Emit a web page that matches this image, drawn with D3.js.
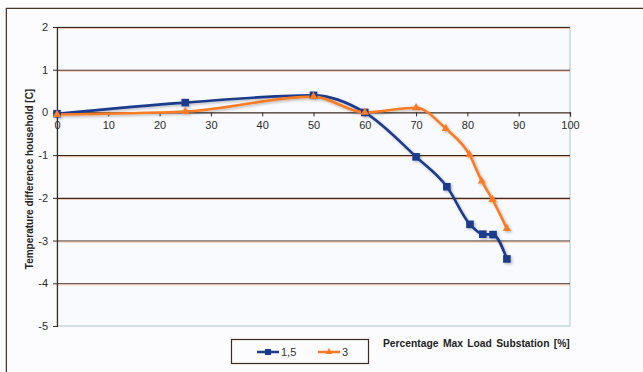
<!DOCTYPE html>
<html><head><meta charset="utf-8">
<script src="https://cdn.jsdelivr.net/npm/d3@7/dist/d3.min.js"></script>
<style>
html,body{margin:0;padding:0;background:#fdfdfe;}
svg{display:block;font-family:"Liberation Sans",Arial,sans-serif;}
</style></head><body>
<svg id="c" width="643" height="372"></svg>
<script>
const xTicks = [0,10,20,30,40,50,60,70,80,90,100];
const yTicks = [2,1,0,-1,-2,-3,-4,-5];
const seriesNames = ["1,5","3"];
const xBlue = [0,25,50,60,70,76,80.5,83,85,87.7];
const yBlue = [-0.03,0.23,0.4,0,-1.04,-1.74,-2.62,-2.85,-2.86,-3.43];
const xOrange = [0,25,50,60,70,75.8,80.4,82.8,84.9,87.7];
const yOrange = [-0.05,0.02,0.37,0,0.11,-0.38,-0.99,-1.61,-2.04,-2.72];
const xTitle = "Percentage Max Load Substation [%]";
const yTitle = "Temperature difference household [C]";

const svg = d3.select("#c");
const x = d3.scaleLinear().domain([0,100]).range([57,570]);
const y = d3.scaleLinear().domain([-5,2]).range([326,27]);
const blue = "#1b3b8c", orange = "#fb7b25";

const defs = svg.append("defs");
const f = defs.append("filter").attr("id","sh").attr("x","-20%").attr("y","-20%").attr("width","140%").attr("height","140%");
f.append("feDropShadow").attr("dx",1.5).attr("dy",1.5).attr("stdDeviation",1.2).attr("flood-color","#000").attr("flood-opacity",0.25);

// outer frame
svg.append("path").attr("d","M6.5,372 V8.5 H643").attr("fill","none").attr("stroke","#4a3528").attr("stroke-width",1.5);
svg.append("rect").attr("x",7).attr("y",9).attr("width",636).attr("height",363).attr("fill","#fcfcfe");

// plot area
svg.append("rect").attr("x",x(0)).attr("y",y(2)).attr("width",x(100)-x(0)).attr("height",y(-5)-y(2))
  .attr("fill","#f9fafd").attr("stroke","#a9c6cc").attr("stroke-width",1);

// gridlines
const gl = yTicks.filter(d=>d>-5 && d!==0);
svg.append("g").selectAll("line").data(gl).join("line")
  .attr("x1",x(0)).attr("x2",x(100)).attr("y1",d=>y(d)+0.5).attr("y2",d=>y(d)+0.5)
  .attr("stroke","#3a2418").attr("stroke-width",1.1);
svg.append("g").selectAll("line").data(gl).join("line")
  .attr("x1",x(0)).attr("x2",x(100)).attr("y1",d=>y(d)+1.6).attr("y2",d=>y(d)+1.6)
  .attr("stroke","#f2b89a").attr("stroke-width",0.8);

const fmt = d => String(d);
// y axis
const yAxis = svg.append("g").attr("transform",`translate(${x(0)},0)`)
  .call(d3.axisLeft(y).tickValues(yTicks).tickSize(4).tickFormat(fmt));
yAxis.select(".domain").attr("stroke","#3a2a22").attr("stroke-width",1.2);
yAxis.selectAll(".tick line").attr("stroke","#3a2a22");
yAxis.selectAll("text").attr("font-size",11).attr("fill","#2a2a2a").attr("x",-9).attr("font-family","Liberation Sans, Arial");

// x axis at y=0
const xAxis = svg.append("g").attr("transform",`translate(0,${y(0)})`)
  .call(d3.axisBottom(x).tickValues(xTicks).tickSize(4).tickFormat(fmt));
xAxis.select(".domain").attr("stroke","#3a2a22").attr("stroke-width",1.2);
xAxis.selectAll(".tick line").attr("stroke","#3a2a22");
xAxis.selectAll("text").attr("font-size",11).attr("fill","#2a2a2a").attr("y",9).attr("font-family","Liberation Sans, Arial");

// lines
const line = d3.line().x(d=>x(d[0])).y(d=>y(d[1])).curve(d3.curveMonotoneX);
const dBlue = xBlue.map((v,i)=>[v,yBlue[i]]);
const dOrange = xOrange.map((v,i)=>[v,yOrange[i]]);
const g = svg.append("g").attr("filter","url(#sh)");
g.append("path").attr("d",line(dBlue)).attr("fill","none").attr("stroke",blue).attr("stroke-width",2.6);
g.append("path").attr("d",line(dOrange)).attr("fill","none").attr("stroke",orange).attr("stroke-width",2.6);
g.append("g").selectAll("rect").data(dBlue).join("rect")
  .attr("x",d=>x(d[0])-3.8).attr("y",d=>y(d[1])-3.8).attr("width",7.6).attr("height",7.6).attr("fill",blue);
const tri = d3.symbol().type(d3.symbolTriangle).size(30);
g.append("g").selectAll("path").data(dOrange).join("path")
  .attr("transform",d=>`translate(${x(d[0])},${y(d[1])})`).attr("d",tri).attr("fill",orange);

// axis titles
svg.append("text").attr("transform","translate(33,179) rotate(-90)").attr("text-anchor","middle")
  .attr("font-size",10).attr("font-weight","bold").attr("fill","#222").text(yTitle);
svg.append("text").attr("x",383).attr("y",347).attr("font-size",10.3).attr("font-weight","bold")
  .attr("fill","#222").attr("word-spacing",1.5).text(xTitle);

// legend
svg.append("rect").attr("x",231.5).attr("y",339.5).attr("width",137).attr("height",24)
  .attr("fill","#fcfcfe").attr("stroke","#3a2a20").attr("stroke-width",1.2);
const lg = svg.append("g");
lg.append("line").attr("x1",257).attr("x2",279).attr("y1",352).attr("y2",352).attr("stroke",blue).attr("stroke-width",2.5);
lg.append("rect").attr("x",265).attr("y",349).attr("width",6).attr("height",6).attr("fill",blue);
lg.append("text").attr("x",281).attr("y",356).attr("font-size",11).attr("fill","#333").text(seriesNames[0]);
lg.append("line").attr("x1",318).attr("x2",340).attr("y1",352).attr("y2",352).attr("stroke",orange).attr("stroke-width",2.5);
lg.append("path").attr("transform","translate(329,352)").attr("d",d3.symbol().type(d3.symbolTriangle).size(20)).attr("fill",orange);
lg.append("text").attr("x",342).attr("y",356).attr("font-size",11).attr("fill","#333").text(seriesNames[1]);
</script>
</body></html>
